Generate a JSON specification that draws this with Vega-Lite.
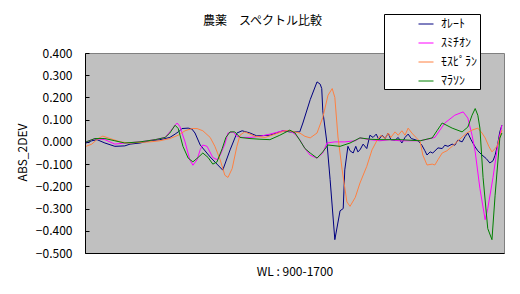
{
"$schema": "https://vega.github.io/schema/vega-lite/v6.json",
"width": 419, "height": 200,
"autosize": {"type": "none"},
"padding": {"left": 85, "top": 53, "right": 16, "bottom": 41},
"background": "white",
"title": {"text": "農薬　スペクトル比較", "font": "Noto Sans CJK JP", "fontSize": 12, "fontWeight": "normal", "color": "black", "anchor": "middle", "frame": "group", "dx": -32, "offset": -14},
"config": {"view": {"fill": "#C0C0C0", "stroke": "#808080", "strokeWidth": 1}},
"data": {"values": [
{"s":"ｵﾚｰﾄ","wl":902,"v":-0.005},{"s":"ｵﾚｰﾄ","wl":913,"v":0.005},{"s":"ｵﾚｰﾄ","wl":923,"v":0.01},{"s":"ｵﾚｰﾄ","wl":938,"v":-0.005},{"s":"ｵﾚｰﾄ","wl":957,"v":-0.02},{"s":"ｵﾚｰﾄ","wl":976,"v":-0.018},{"s":"ｵﾚｰﾄ","wl":986,"v":-0.01},{"s":"ｵﾚｰﾄ","wl":1005,"v":-0.005},{"s":"ｵﾚｰﾄ","wl":1024,"v":0.005},{"s":"ｵﾚｰﾄ","wl":1043,"v":0.01},{"s":"ｵﾚｰﾄ","wl":1053,"v":0.015},{"s":"ｵﾚｰﾄ","wl":1062,"v":0.02},{"s":"ｵﾚｰﾄ","wl":1072,"v":0.035},{"s":"ｵﾚｰﾄ","wl":1081,"v":0.05},{"s":"ｵﾚｰﾄ","wl":1085,"v":0.06},{"s":"ｵﾚｰﾄ","wl":1097,"v":0.062},{"s":"ｵﾚｰﾄ","wl":1104,"v":0.058},{"s":"ｵﾚｰﾄ","wl":1110,"v":0.04},{"s":"ｵﾚｰﾄ","wl":1120,"v":-0.014},{"s":"ｵﾚｰﾄ","wl":1139,"v":-0.068},{"s":"ｵﾚｰﾄ","wl":1152,"v":-0.1},{"s":"ｵﾚｰﾄ","wl":1163,"v":-0.127},{"s":"ｵﾚｰﾄ","wl":1177,"v":-0.036},{"s":"ｵﾚｰﾄ","wl":1190,"v":0.04},{"s":"ｵﾚｰﾄ","wl":1200,"v":0.05},{"s":"ｵﾚｰﾄ","wl":1215,"v":0.04},{"s":"ｵﾚｰﾄ","wl":1228,"v":0.027},{"s":"ｵﾚｰﾄ","wl":1253,"v":0.03},{"s":"ｵﾚｰﾄ","wl":1278,"v":0.05},{"s":"ｵﾚｰﾄ","wl":1291,"v":0.045},{"s":"ｵﾚｰﾄ","wl":1310,"v":0.045},{"s":"ｵﾚｰﾄ","wl":1316,"v":0.085},{"s":"ｵﾚｰﾄ","wl":1330,"v":0.19},{"s":"ｵﾚｰﾄ","wl":1343,"v":0.27},{"s":"ｵﾚｰﾄ","wl":1349,"v":0.26},{"s":"ｵﾚｰﾄ","wl":1352,"v":0.24},{"s":"ｵﾚｰﾄ","wl":1354,"v":0.14},{"s":"ｵﾚｰﾄ","wl":1362,"v":-0.005},{"s":"ｵﾚｰﾄ","wl":1368,"v":-0.17},{"s":"ｵﾚｰﾄ","wl":1377,"v":-0.44},{"s":"ｵﾚｰﾄ","wl":1387,"v":-0.31},{"s":"ｵﾚｰﾄ","wl":1393,"v":-0.3},{"s":"ｵﾚｰﾄ","wl":1396,"v":-0.126},{"s":"ｵﾚｰﾄ","wl":1402,"v":-0.02},{"s":"ｵﾚｰﾄ","wl":1406,"v":-0.04},{"s":"ｵﾚｰﾄ","wl":1412,"v":-0.05},{"s":"ｵﾚｰﾄ","wl":1417,"v":-0.02},{"s":"ｵﾚｰﾄ","wl":1421,"v":-0.045},{"s":"ｵﾚｰﾄ","wl":1425,"v":-0.036},{"s":"ｵﾚｰﾄ","wl":1431,"v":-0.01},{"s":"ｵﾚｰﾄ","wl":1438,"v":-0.03},{"s":"ｵﾚｰﾄ","wl":1444,"v":0.03},{"s":"ｵﾚｰﾄ","wl":1450,"v":0.02},{"s":"ｵﾚｰﾄ","wl":1456,"v":0.035},{"s":"ｵﾚｰﾄ","wl":1461,"v":0.01},{"s":"ｵﾚｰﾄ","wl":1467,"v":0.03},{"s":"ｵﾚｰﾄ","wl":1473,"v":0.015},{"s":"ｵﾚｰﾄ","wl":1479,"v":0.04},{"s":"ｵﾚｰﾄ","wl":1484,"v":0.01},{"s":"ｵﾚｰﾄ","wl":1492,"v":0.008},{"s":"ｵﾚｰﾄ","wl":1498,"v":0.02},{"s":"ｵﾚｰﾄ","wl":1505,"v":-0.005},{"s":"ｵﾚｰﾄ","wl":1511,"v":0.02},{"s":"ｵﾚｰﾄ","wl":1517,"v":0.035},{"s":"ｵﾚｰﾄ","wl":1523,"v":0.015},{"s":"ｵﾚｰﾄ","wl":1530,"v":0.01},{"s":"ｵﾚｰﾄ","wl":1536,"v":0.005},{"s":"ｵﾚｰﾄ","wl":1543,"v":-0.014},{"s":"ｵﾚｰﾄ","wl":1549,"v":-0.04},{"s":"ｵﾚｰﾄ","wl":1553,"v":-0.059},{"s":"ｵﾚｰﾄ","wl":1559,"v":-0.045},{"s":"ｵﾚｰﾄ","wl":1564,"v":-0.05},{"s":"ｵﾚｰﾄ","wl":1574,"v":-0.027},{"s":"ｵﾚｰﾄ","wl":1582,"v":-0.03},{"s":"ｵﾚｰﾄ","wl":1587,"v":-0.015},{"s":"ｵﾚｰﾄ","wl":1593,"v":-0.02},{"s":"ｵﾚｰﾄ","wl":1601,"v":-0.01},{"s":"ｵﾚｰﾄ","wl":1606,"v":-0.015},{"s":"ｵﾚｰﾄ","wl":1612,"v":0.008},{"s":"ｵﾚｰﾄ","wl":1620,"v":0.0},{"s":"ｵﾚｰﾄ","wl":1626,"v":0.025},{"s":"ｵﾚｰﾄ","wl":1631,"v":0.04},{"s":"ｵﾚｰﾄ","wl":1637,"v":0.01},{"s":"ｵﾚｰﾄ","wl":1645,"v":-0.023},{"s":"ｵﾚｰﾄ","wl":1650,"v":-0.04},{"s":"ｵﾚｰﾄ","wl":1658,"v":-0.059},{"s":"ｵﾚｰﾄ","wl":1666,"v":-0.075},{"s":"ｵﾚｰﾄ","wl":1673,"v":-0.095},{"s":"ｵﾚｰﾄ","wl":1679,"v":-0.085},{"s":"ｵﾚｰﾄ","wl":1683,"v":-0.06},{"s":"ｵﾚｰﾄ","wl":1688,"v":-0.01},{"s":"ｵﾚｰﾄ","wl":1692,"v":0.045},{"s":"ｵﾚｰﾄ","wl":1696,"v":0.075},
{"s":"ｽﾐﾁｵﾝ","wl":902,"v":0.0},{"s":"ｽﾐﾁｵﾝ","wl":919,"v":0.015},{"s":"ｽﾐﾁｵﾝ","wl":938,"v":0.01},{"s":"ｽﾐﾁｵﾝ","wl":957,"v":-0.01},{"s":"ｽﾐﾁｵﾝ","wl":976,"v":-0.005},{"s":"ｽﾐﾁｵﾝ","wl":1005,"v":0.0},{"s":"ｽﾐﾁｵﾝ","wl":1034,"v":0.01},{"s":"ｽﾐﾁｵﾝ","wl":1053,"v":0.02},{"s":"ｽﾐﾁｵﾝ","wl":1062,"v":0.045},{"s":"ｽﾐﾁｵﾝ","wl":1072,"v":0.075},{"s":"ｽﾐﾁｵﾝ","wl":1076,"v":0.085},{"s":"ｽﾐﾁｵﾝ","wl":1081,"v":0.07},{"s":"ｽﾐﾁｵﾝ","wl":1091,"v":0.0},{"s":"ｽﾐﾁｵﾝ","wl":1100,"v":-0.08},{"s":"ｽﾐﾁｵﾝ","wl":1106,"v":-0.105},{"s":"ｽﾐﾁｵﾝ","wl":1114,"v":-0.08},{"s":"ｽﾐﾁｵﾝ","wl":1120,"v":-0.035},{"s":"ｽﾐﾁｵﾝ","wl":1125,"v":-0.014},{"s":"ｽﾐﾁｵﾝ","wl":1133,"v":-0.02},{"s":"ｽﾐﾁｵﾝ","wl":1144,"v":-0.07},{"s":"ｽﾐﾁｵﾝ","wl":1152,"v":-0.08},{"s":"ｽﾐﾁｵﾝ","wl":1158,"v":-0.06},{"s":"ｽﾐﾁｵﾝ","wl":1167,"v":-0.01},{"s":"ｽﾐﾁｵﾝ","wl":1173,"v":0.04},{"s":"ｽﾐﾁｵﾝ","wl":1183,"v":0.045},{"s":"ｽﾐﾁｵﾝ","wl":1190,"v":0.025},{"s":"ｽﾐﾁｵﾝ","wl":1200,"v":0.02},{"s":"ｽﾐﾁｵﾝ","wl":1215,"v":0.02},{"s":"ｽﾐﾁｵﾝ","wl":1234,"v":0.025},{"s":"ｽﾐﾁｵﾝ","wl":1253,"v":0.035},{"s":"ｽﾐﾁｵﾝ","wl":1278,"v":0.05},{"s":"ｽﾐﾁｵﾝ","wl":1291,"v":0.05},{"s":"ｽﾐﾁｵﾝ","wl":1301,"v":0.035},{"s":"ｽﾐﾁｵﾝ","wl":1310,"v":0.01},{"s":"ｽﾐﾁｵﾝ","wl":1320,"v":-0.03},{"s":"ｽﾐﾁｵﾝ","wl":1330,"v":-0.06},{"s":"ｽﾐﾁｵﾝ","wl":1343,"v":-0.073},{"s":"ｽﾐﾁｵﾝ","wl":1354,"v":-0.05},{"s":"ｽﾐﾁｵﾝ","wl":1362,"v":-0.005},{"s":"ｽﾐﾁｵﾝ","wl":1377,"v":0.0},{"s":"ｽﾐﾁｵﾝ","wl":1396,"v":0.0},{"s":"ｽﾐﾁｵﾝ","wl":1416,"v":0.005},{"s":"ｽﾐﾁｵﾝ","wl":1425,"v":0.018},{"s":"ｽﾐﾁｵﾝ","wl":1444,"v":0.01},{"s":"ｽﾐﾁｵﾝ","wl":1463,"v":0.005},{"s":"ｽﾐﾁｵﾝ","wl":1482,"v":0.01},{"s":"ｽﾐﾁｵﾝ","wl":1501,"v":0.005},{"s":"ｽﾐﾁｵﾝ","wl":1521,"v":0.005},{"s":"ｽﾐﾁｵﾝ","wl":1540,"v":0.005},{"s":"ｽﾐﾁｵﾝ","wl":1559,"v":0.015},{"s":"ｽﾐﾁｵﾝ","wl":1568,"v":0.02},{"s":"ｽﾐﾁｵﾝ","wl":1587,"v":0.085},{"s":"ｽﾐﾁｵﾝ","wl":1606,"v":0.12},{"s":"ｽﾐﾁｵﾝ","wl":1622,"v":0.135},{"s":"ｽﾐﾁｵﾝ","wl":1631,"v":0.107},{"s":"ｽﾐﾁｵﾝ","wl":1639,"v":0.03},{"s":"ｽﾐﾁｵﾝ","wl":1645,"v":-0.045},{"s":"ｽﾐﾁｵﾝ","wl":1654,"v":-0.21},{"s":"ｽﾐﾁｵﾝ","wl":1664,"v":-0.35},{"s":"ｽﾐﾁｵﾝ","wl":1669,"v":-0.3},{"s":"ｽﾐﾁｵﾝ","wl":1679,"v":-0.16},{"s":"ｽﾐﾁｵﾝ","wl":1688,"v":-0.014},{"s":"ｽﾐﾁｵﾝ","wl":1696,"v":0.075},
{"s":"ﾓｽﾋﾟﾗﾝ","wl":902,"v":-0.02},{"s":"ﾓｽﾋﾟﾗﾝ","wl":913,"v":-0.01},{"s":"ﾓｽﾋﾟﾗﾝ","wl":925,"v":0.015},{"s":"ﾓｽﾋﾟﾗﾝ","wl":934,"v":0.026},{"s":"ﾓｽﾋﾟﾗﾝ","wl":948,"v":0.015},{"s":"ﾓｽﾋﾟﾗﾝ","wl":967,"v":0.0},{"s":"ﾓｽﾋﾟﾗﾝ","wl":986,"v":-0.005},{"s":"ﾓｽﾋﾟﾗﾝ","wl":1005,"v":-0.002},{"s":"ﾓｽﾋﾟﾗﾝ","wl":1024,"v":0.0},{"s":"ﾓｽﾋﾟﾗﾝ","wl":1043,"v":0.005},{"s":"ﾓｽﾋﾟﾗﾝ","wl":1062,"v":0.015},{"s":"ﾓｽﾋﾟﾗﾝ","wl":1078,"v":0.03},{"s":"ﾓｽﾋﾟﾗﾝ","wl":1091,"v":0.05},{"s":"ﾓｽﾋﾟﾗﾝ","wl":1104,"v":0.06},{"s":"ﾓｽﾋﾟﾗﾝ","wl":1114,"v":0.06},{"s":"ﾓｽﾋﾟﾗﾝ","wl":1125,"v":0.05},{"s":"ﾓｽﾋﾟﾗﾝ","wl":1139,"v":0.02},{"s":"ﾓｽﾋﾟﾗﾝ","wl":1148,"v":-0.02},{"s":"ﾓｽﾋﾟﾗﾝ","wl":1158,"v":-0.08},{"s":"ﾓｽﾋﾟﾗﾝ","wl":1167,"v":-0.15},{"s":"ﾓｽﾋﾟﾗﾝ","wl":1173,"v":-0.16},{"s":"ﾓｽﾋﾟﾗﾝ","wl":1181,"v":-0.12},{"s":"ﾓｽﾋﾟﾗﾝ","wl":1190,"v":-0.02},{"s":"ﾓｽﾋﾟﾗﾝ","wl":1196,"v":0.03},{"s":"ﾓｽﾋﾟﾗﾝ","wl":1205,"v":0.045},{"s":"ﾓｽﾋﾟﾗﾝ","wl":1225,"v":0.025},{"s":"ﾓｽﾋﾟﾗﾝ","wl":1244,"v":0.02},{"s":"ﾓｽﾋﾟﾗﾝ","wl":1263,"v":0.035},{"s":"ﾓｽﾋﾟﾗﾝ","wl":1282,"v":0.05},{"s":"ﾓｽﾋﾟﾗﾝ","wl":1291,"v":0.05},{"s":"ﾓｽﾋﾟﾗﾝ","wl":1310,"v":0.04},{"s":"ﾓｽﾋﾟﾗﾝ","wl":1320,"v":0.025},{"s":"ﾓｽﾋﾟﾗﾝ","wl":1330,"v":0.018},{"s":"ﾓｽﾋﾟﾗﾝ","wl":1343,"v":0.04},{"s":"ﾓｽﾋﾟﾗﾝ","wl":1354,"v":0.11},{"s":"ﾓｽﾋﾟﾗﾝ","wl":1364,"v":0.21},{"s":"ﾓｽﾋﾟﾗﾝ","wl":1372,"v":0.24},{"s":"ﾓｽﾋﾟﾗﾝ","wl":1377,"v":0.2},{"s":"ﾓｽﾋﾟﾗﾝ","wl":1383,"v":0.022},{"s":"ﾓｽﾋﾟﾗﾝ","wl":1391,"v":-0.126},{"s":"ﾓｽﾋﾟﾗﾝ","wl":1400,"v":-0.27},{"s":"ﾓｽﾋﾟﾗﾝ","wl":1406,"v":-0.29},{"s":"ﾓｽﾋﾟﾗﾝ","wl":1416,"v":-0.25},{"s":"ﾓｽﾋﾟﾗﾝ","wl":1425,"v":-0.185},{"s":"ﾓｽﾋﾟﾗﾝ","wl":1438,"v":-0.11},{"s":"ﾓｽﾋﾟﾗﾝ","wl":1448,"v":-0.036},{"s":"ﾓｽﾋﾟﾗﾝ","wl":1458,"v":0.009},{"s":"ﾓｽﾋﾟﾗﾝ","wl":1465,"v":0.03},{"s":"ﾓｽﾋﾟﾗﾝ","wl":1473,"v":0.015},{"s":"ﾓｽﾋﾟﾗﾝ","wl":1479,"v":0.04},{"s":"ﾓｽﾋﾟﾗﾝ","wl":1484,"v":0.02},{"s":"ﾓｽﾋﾟﾗﾝ","wl":1492,"v":0.045},{"s":"ﾓｽﾋﾟﾗﾝ","wl":1498,"v":0.03},{"s":"ﾓｽﾋﾟﾗﾝ","wl":1505,"v":0.05},{"s":"ﾓｽﾋﾟﾗﾝ","wl":1511,"v":0.03},{"s":"ﾓｽﾋﾟﾗﾝ","wl":1517,"v":0.062},{"s":"ﾓｽﾋﾟﾗﾝ","wl":1524,"v":0.04},{"s":"ﾓｽﾋﾟﾗﾝ","wl":1532,"v":0.02},{"s":"ﾓｽﾋﾟﾗﾝ","wl":1540,"v":0.0},{"s":"ﾓｽﾋﾟﾗﾝ","wl":1545,"v":-0.059},{"s":"ﾓｽﾋﾟﾗﾝ","wl":1553,"v":-0.104},{"s":"ﾓｽﾋﾟﾗﾝ","wl":1563,"v":-0.1},{"s":"ﾓｽﾋﾟﾗﾝ","wl":1568,"v":-0.104},{"s":"ﾓｽﾋﾟﾗﾝ","wl":1574,"v":-0.08},{"s":"ﾓｽﾋﾟﾗﾝ","wl":1582,"v":-0.05},{"s":"ﾓｽﾋﾟﾗﾝ","wl":1591,"v":-0.04},{"s":"ﾓｽﾋﾟﾗﾝ","wl":1601,"v":-0.02},{"s":"ﾓｽﾋﾟﾗﾝ","wl":1610,"v":0.0},{"s":"ﾓｽﾋﾟﾗﾝ","wl":1620,"v":0.022},{"s":"ﾓｽﾋﾟﾗﾝ","wl":1629,"v":0.04},{"s":"ﾓｽﾋﾟﾗﾝ","wl":1639,"v":0.053},{"s":"ﾓｽﾋﾟﾗﾝ","wl":1650,"v":0.062},{"s":"ﾓｽﾋﾟﾗﾝ","wl":1658,"v":0.04},{"s":"ﾓｽﾋﾟﾗﾝ","wl":1664,"v":0.018},{"s":"ﾓｽﾋﾟﾗﾝ","wl":1671,"v":-0.02},{"s":"ﾓｽﾋﾟﾗﾝ","wl":1677,"v":-0.045},{"s":"ﾓｽﾋﾟﾗﾝ","wl":1683,"v":-0.03},{"s":"ﾓｽﾋﾟﾗﾝ","wl":1688,"v":-0.014},{"s":"ﾓｽﾋﾟﾗﾝ","wl":1696,"v":0.053},
{"s":"ﾏﾗｿﾝ","wl":902,"v":0.0},{"s":"ﾏﾗｿﾝ","wl":919,"v":0.015},{"s":"ﾏﾗｿﾝ","wl":938,"v":0.015},{"s":"ﾏﾗｿﾝ","wl":957,"v":0.005},{"s":"ﾏﾗｿﾝ","wl":976,"v":-0.005},{"s":"ﾏﾗｿﾝ","wl":1005,"v":0.0},{"s":"ﾏﾗｿﾝ","wl":1034,"v":0.01},{"s":"ﾏﾗｿﾝ","wl":1053,"v":0.02},{"s":"ﾏﾗｿﾝ","wl":1062,"v":0.04},{"s":"ﾏﾗｿﾝ","wl":1072,"v":0.075},{"s":"ﾏﾗｿﾝ","wl":1078,"v":0.06},{"s":"ﾏﾗｿﾝ","wl":1087,"v":-0.02},{"s":"ﾏﾗｿﾝ","wl":1097,"v":-0.073},{"s":"ﾏﾗｿﾝ","wl":1106,"v":-0.09},{"s":"ﾏﾗｿﾝ","wl":1116,"v":-0.07},{"s":"ﾏﾗｿﾝ","wl":1125,"v":-0.05},{"s":"ﾏﾗｿﾝ","wl":1135,"v":-0.07},{"s":"ﾏﾗｿﾝ","wl":1144,"v":-0.1},{"s":"ﾏﾗｿﾝ","wl":1152,"v":-0.09},{"s":"ﾏﾗｿﾝ","wl":1162,"v":-0.03},{"s":"ﾏﾗｿﾝ","wl":1169,"v":0.02},{"s":"ﾏﾗｿﾝ","wl":1177,"v":0.045},{"s":"ﾏﾗｿﾝ","wl":1186,"v":0.045},{"s":"ﾏﾗｿﾝ","wl":1196,"v":0.02},{"s":"ﾏﾗｿﾝ","wl":1215,"v":0.015},{"s":"ﾏﾗｿﾝ","wl":1234,"v":0.012},{"s":"ﾏﾗｿﾝ","wl":1253,"v":0.01},{"s":"ﾏﾗｿﾝ","wl":1272,"v":0.03},{"s":"ﾏﾗｿﾝ","wl":1291,"v":0.053},{"s":"ﾏﾗｿﾝ","wl":1301,"v":0.04},{"s":"ﾏﾗｿﾝ","wl":1310,"v":0.008},{"s":"ﾏﾗｿﾝ","wl":1320,"v":-0.03},{"s":"ﾏﾗｿﾝ","wl":1330,"v":-0.05},{"s":"ﾏﾗｿﾝ","wl":1343,"v":-0.073},{"s":"ﾏﾗｿﾝ","wl":1354,"v":-0.045},{"s":"ﾏﾗｿﾝ","wl":1364,"v":-0.014},{"s":"ﾏﾗｿﾝ","wl":1387,"v":-0.02},{"s":"ﾏﾗｿﾝ","wl":1406,"v":-0.005},{"s":"ﾏﾗｿﾝ","wl":1425,"v":0.018},{"s":"ﾏﾗｿﾝ","wl":1444,"v":0.012},{"s":"ﾏﾗｿﾝ","wl":1463,"v":0.01},{"s":"ﾏﾗｿﾝ","wl":1501,"v":0.01},{"s":"ﾏﾗｿﾝ","wl":1540,"v":0.005},{"s":"ﾏﾗｿﾝ","wl":1563,"v":0.018},{"s":"ﾏﾗｿﾝ","wl":1572,"v":0.05},{"s":"ﾏﾗｿﾝ","wl":1582,"v":0.085},{"s":"ﾏﾗｿﾝ","wl":1601,"v":0.062},{"s":"ﾏﾗｿﾝ","wl":1620,"v":0.045},{"s":"ﾏﾗｿﾝ","wl":1631,"v":0.067},{"s":"ﾏﾗｿﾝ","wl":1639,"v":0.12},{"s":"ﾏﾗｿﾝ","wl":1645,"v":0.15},{"s":"ﾏﾗｿﾝ","wl":1650,"v":0.12},{"s":"ﾏﾗｿﾝ","wl":1654,"v":0.062},{"s":"ﾏﾗｿﾝ","wl":1660,"v":-0.16},{"s":"ﾏﾗｿﾝ","wl":1669,"v":-0.39},{"s":"ﾏﾗｿﾝ","wl":1677,"v":-0.44},{"s":"ﾏﾗｿﾝ","wl":1683,"v":-0.24},{"s":"ﾏﾗｿﾝ","wl":1692,"v":0.017},{"s":"ﾏﾗｿﾝ","wl":1696,"v":0.04}
]},
"mark": {"type": "line", "strokeWidth": 1, "clip": true},
"encoding": {
"x": {"field": "wl", "type": "quantitative", "scale": {"domain": [900, 1700], "nice": false, "zero": false},
 "axis": {"title": "WL : 900-1700", "labels": false, "ticks": false, "grid": false, "domainColor": "black", "domainWidth": 1, "titleFont": "Noto Sans CJK JP", "titleFontSize": 12, "titleFontWeight": "normal", "titleColor": "black", "titleY": 18, "titleBaseline": "middle"}},
"y": {"field": "v", "type": "quantitative", "scale": {"domain": [-0.5, 0.4], "nice": false, "zero": false},
 "axis": {"title": "ABS_2DEV", "values": [-0.5, -0.4, -0.3, -0.2, -0.1, 0, 0.1, 0.2, 0.3, 0.4], "format": ".3f", "grid": false, "domainColor": "black", "domainWidth": 1, "tickColor": "black", "tickSize": -4, "labelPadding": 17, "labelFont": "Noto Sans CJK JP", "labelFontSize": 12, "labelColor": "black", "titleFont": "Noto Sans CJK JP", "titleFontSize": 12, "titleFontWeight": "normal", "titleColor": "black", "titleX": -63, "titleY": 99, "titleAngle": 270, "titleBaseline": "middle", "titleAlign": "center"}},
"color": {"field": "s", "type": "nominal", "scale": {"domain": ["ｵﾚｰﾄ", "ｽﾐﾁｵﾝ", "ﾓｽﾋﾟﾗﾝ", "ﾏﾗｿﾝ"], "range": ["#000080", "#FF00FF", "#FF8040", "#008000"]},
 "legend": {"title": null, "orient": "none", "legendX": 299, "legendY": -39, "direction": "vertical", "fillColor": "white", "strokeColor": "black", "padding": 2, "symbolType": "stroke", "symbolSize": 225, "symbolStrokeWidth": 1, "symbolOffset": 32, "labelOffset": 7, "labelFont": "Noto Sans CJK JP", "labelFontSize": 12, "labelColor": "black", "rowPadding": 5}}
}
}
